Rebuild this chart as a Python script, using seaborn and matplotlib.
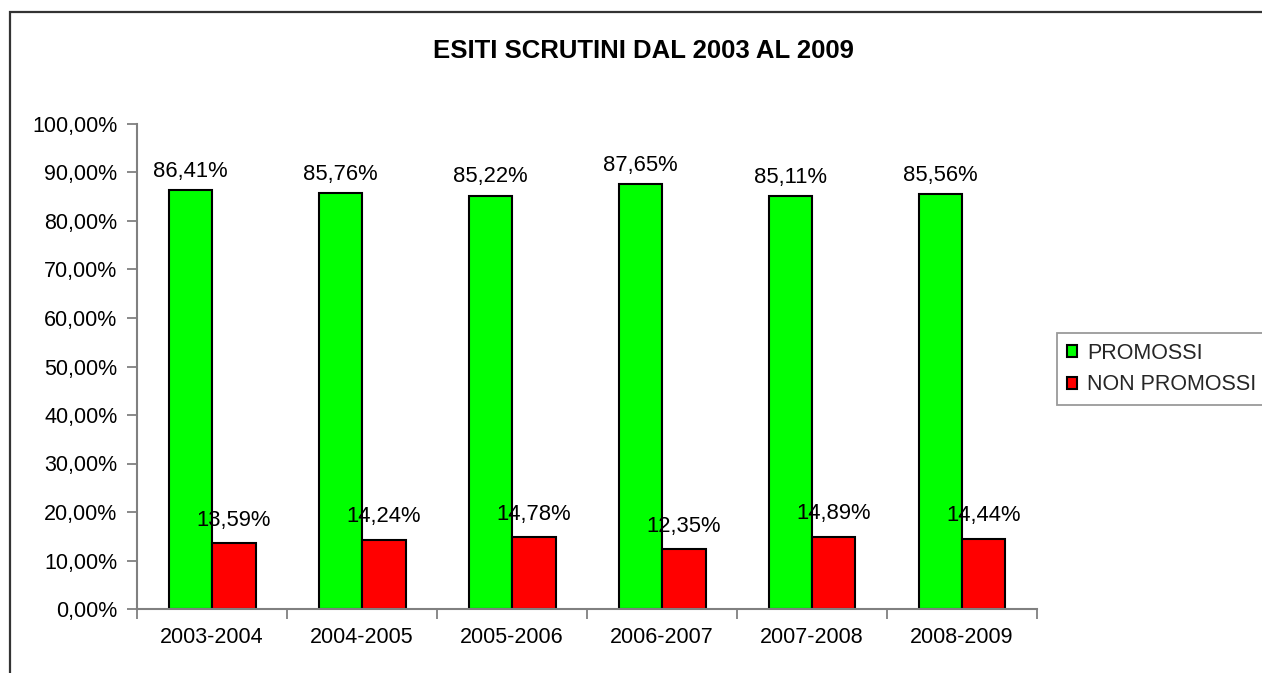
import matplotlib
matplotlib.use("Agg")
import matplotlib.pyplot as plt
import seaborn as sns
import pandas as pd
from matplotlib.patches import Rectangle
from matplotlib.ticker import FuncFormatter, FixedLocator

years = ["2003-2004", "2004-2005", "2005-2006", "2006-2007", "2007-2008", "2008-2009"]
promossi = [86.41, 85.76, 85.22, 87.65, 85.11, 85.56]
non_promossi = [13.59, 14.24, 14.78, 12.35, 14.89, 14.44]
series = ["PROMOSSI", "NON PROMOSSI"]
colors = ["#00FF00", "#FF0000"]
title = "ESITI SCRUTINI DAL 2003 AL 2009"

df = pd.DataFrame({
    "anno": years * 2,
    "valore": promossi + non_promossi,
    "serie": [series[0]] * len(years) + [series[1]] * len(years),
})

sns.set_theme(style="white")
plt.rcParams["font.family"] = ["Liberation Sans", "DejaVu Sans"]

fig = plt.figure(figsize=(12.62, 6.73), dpi=100)
ax = fig.add_axes([137 / 1262, 1 - 609 / 673, 900 / 1262, 485 / 673])

sns.barplot(data=df, x="anno", y="valore", hue="serie", palette=colors,
            width=0.58, edgecolor="black", linewidth=1.5, ax=ax,
            saturation=1, legend=True)

fmt = lambda v: f"{v:.2f}".replace(".", ",") + "%"
pads = [6, 9]
for cont, pad in zip(ax.containers, pads):
    ax.bar_label(cont, labels=[fmt(b.get_height()) for b in cont],
                 padding=pad, fontsize=15.8, color="black")

ax.set_xlim(-0.5, 5.5)
ax.set_ylim(0, 100)
ax.set_yticks(range(0, 101, 10))
ax.yaxis.set_major_formatter(FuncFormatter(lambda v, p: f"{v:.2f}".replace(".", ",") + "%"))
ax.xaxis.set_minor_locator(FixedLocator([i - 0.5 for i in range(len(years) + 1)]))
ax.tick_params(axis="x", which="major", length=0, pad=13, labelsize=15.5, colors="black")
ax.tick_params(axis="x", which="minor", length=7, width=1.3, color="#808080", direction="out", bottom=True)
ax.tick_params(axis="y", which="major", length=7, width=1.3, color="#808080", direction="out",
               pad=7, labelsize=15.5, left=True, labelcolor="black")
ax.set_xlabel("")
ax.set_ylabel("")
for s in ["top", "right"]:
    ax.spines[s].set_visible(False)
for s in ["left", "bottom"]:
    ax.spines[s].set_color("#808080")
    ax.spines[s].set_linewidth(1.5)

leg = ax.legend(loc="upper left", bbox_to_anchor=(1057 / 1262, 1 - 333 / 673),
                bbox_transform=fig.transFigure, frameon=True, fancybox=False,
                edgecolor="#808080", fontsize=15.5, handlelength=0.5, handleheight=0.5,
                handletextpad=0.45, borderpad=0.45, labelspacing=0.5, borderaxespad=0)
leg.get_frame().set_linewidth(1.3)
leg.get_frame().set_facecolor("white")

fig.text(643 / 1262, 1 - 51 / 673, title, ha="center", va="center",
         fontsize=18.5, fontweight="bold", color="black")

fig.patches.append(Rectangle((10 / 1262, -0.1), 1.2, 1 - 12 / 673 + 0.1,
                             transform=fig.transFigure, fill=False,
                             edgecolor="#333333", linewidth=1.6, zorder=0))

fig.savefig("out.png", dpi=100)
